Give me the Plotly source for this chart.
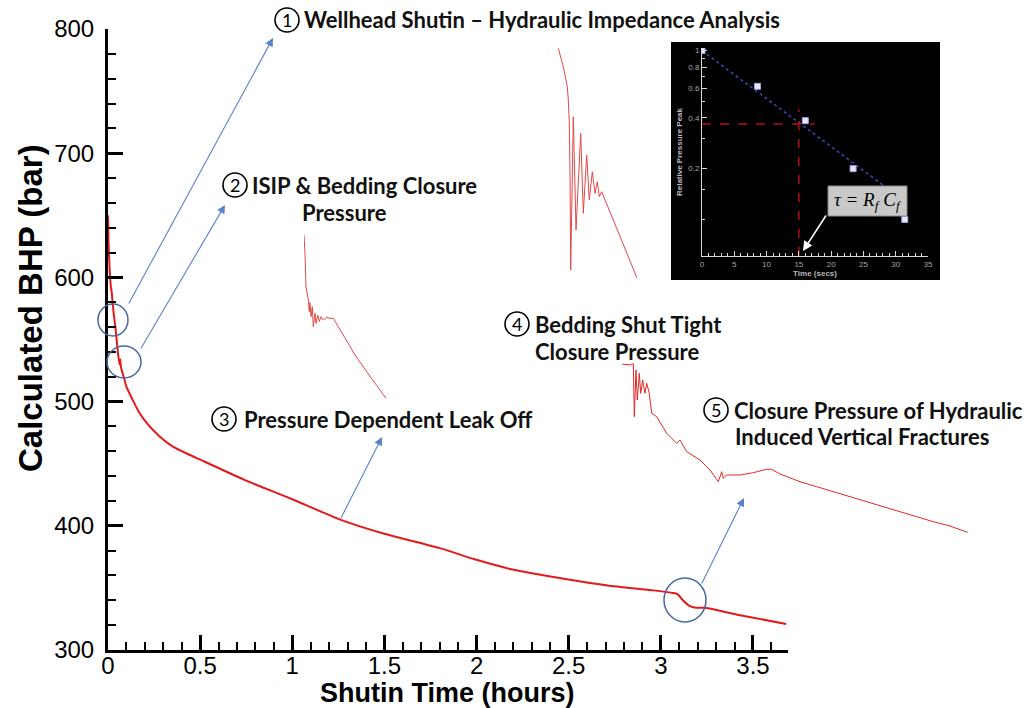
import math
import plotly.graph_objects as go

W, H = 1026, 708

# ---------------- main curve (shut-in BHP) ----------------
shutin_hours = [0, 0.003, 0.008, 0.015, 0.02, 0.03, 0.04, 0.05, 0.062, 0.066, 0.07,
                0.085, 0.1, 0.135, 0.17, 0.22, 0.28, 0.35, 0.43, 0.52, 0.74, 0.99,
                1.26, 1.49, 1.80, 1.99, 2.19, 2.49, 2.71, 2.96, 3.06, 3.09, 3.12,
                3.15, 3.19, 3.24, 3.43, 3.68]
bhp_bar = [650, 628, 610, 593, 588, 572, 560, 545, 530, 534, 528,
           520, 512, 501, 491, 481, 472, 464, 458, 452, 437, 422,
           405, 394, 382, 373, 365, 357, 352, 348, 346, 345, 340,
           336, 334, 334, 328, 321]

# ---------------- inset: hydraulic impedance decay ----------------
decay_time_s = [0, 8.6, 16.0, 23.4, 31.4]
rel_peak = [1.0, 0.615, 0.385, 0.20, 0.10]
fit_time_s = [0, 28.5]
fit_peak = [1.0, 0.155]
tau_s = 15
tau_level = 0.368
inset_x_ticks = [0, 5, 10, 15, 20, 25, 30, 35]
inset_y_ticks = [0.2, 0.4, 0.6, 0.8, 1]
inset_y_labels = ["0.2", "0.4", "0.6", "0.8", "1"]

# ---------------- magnified snippets (relative time, relative pressure) ----------------
wellhead_t = [0.3, 5.3, 8, 9.3, 10.3, 11.3, 12, 12.7, 15.3, 18, 22.7, 25.3, 28.7, 31.3,
              34.3, 37, 39.3, 41.3, 43.7, 62, 79]
wellhead_p = [229.7, 211.3, 198, 191.3, 178, 155, 105, 8, 161.3, 48, 144.7, 64.7, 123, 78,
              106.3, 84.7, 96.3, 81.3, 86.3, 41.3, 0]

isip_t = [0, 1, 2, 4.3, 5.3, 6, 7, 8.3, 9.3, 11, 12, 13.7, 15.3, 17, 19.3, 22.7, 26, 29.3,
          34.3, 42.7, 51, 62.7, 72.7, 82]
isip_p = [163.3, 145, 111.6, 98.3, 86.6, 95.6, 81.6, 91.6, 71.6, 85, 75, 83.3, 76.6, 81.6,
          78.3, 81, 80, 80, 71.6, 56.6, 43.3, 26.6, 13.3, 0]

bedding_t = [0, 8.3, 11.6, 12.6, 14.3, 15.6, 17.6, 19, 21, 23.3, 25, 27.6, 30, 35, 45, 55,
             58.3, 65, 78.3, 88.3, 96.6, 100, 101.6, 105, 118.3, 131.6, 145, 150, 158.3,
             178.3, 195, 211.6, 228.3, 245, 261.6, 278.3, 295, 311.6, 328.3, 346.6]
bedding_p = [168.7, 167.7, 169.4, 116, 162.7, 132.7, 159.4, 139.4, 152.7, 139.4, 149.4,
             139.4, 119.4, 116, 99.4, 89.4, 92.7, 81, 72.7, 62.7, 51, 61, 54.4, 57.7, 57.7,
             60, 63.4, 63.4, 58.7, 51, 46, 41, 36, 31, 26, 21, 16, 11, 6.7, 0]


def fx(x):
    return x / W


def fy(y):
    return 1 - y / H


fig = go.Figure()

RED = "#E3191C"
fig.add_trace(go.Scatter(x=shutin_hours, y=bhp_bar, mode="lines",
                         line=dict(color=RED, width=2, shape="spline", smoothing=0.6),
                         xaxis="x", yaxis="y", showlegend=False, hoverinfo="skip"))

# snippets
fig.add_trace(go.Scatter(x=wellhead_t, y=wellhead_p, mode="lines",
                         line=dict(color="#E24848", width=1), xaxis="x3", yaxis="y3",
                         showlegend=False, hoverinfo="skip"))
fig.add_trace(go.Scatter(x=isip_t, y=isip_p, mode="lines",
                         line=dict(color="#E24848", width=1), xaxis="x4", yaxis="y4",
                         showlegend=False, hoverinfo="skip"))
fig.add_trace(go.Scatter(x=bedding_t, y=bedding_p, mode="lines",
                         line=dict(color="#E02828", width=1), xaxis="x5", yaxis="y5",
                         showlegend=False, hoverinfo="skip"))

# inset traces
inset_ymin = 0.0608
inset_ymax = 1.037
fig.add_trace(go.Scatter(x=fit_time_s, y=fit_peak, mode="lines",
                         line=dict(color="#3848B0", width=1.6, dash="dot"),
                         xaxis="x2", yaxis="y2", showlegend=False, hoverinfo="skip"))
fig.add_trace(go.Scatter(x=[0, 17.5], y=[tau_level, tau_level], mode="lines",
                         line=dict(color="#B01010", width=1.5, dash="dash"),
                         xaxis="x2", yaxis="y2", showlegend=False, hoverinfo="skip"))
fig.add_trace(go.Scatter(x=[tau_s, tau_s], y=[inset_ymin, 0.45], mode="lines",
                         line=dict(color="#B01010", width=1.5, dash="dash"),
                         xaxis="x2", yaxis="y2", showlegend=False, hoverinfo="skip"))
fig.add_trace(go.Scatter(x=decay_time_s, y=rel_peak, mode="markers",
                         marker=dict(symbol="square", size=6, color="#E8E8FF",
                                     line=dict(color="#A0A0E0", width=1)),
                         xaxis="x2", yaxis="y2", showlegend=False, hoverinfo="skip"))

SANS = "Liberation Sans, Arial"
TICKFONT = dict(family=SANS, size=24, color="black")

layout = dict(
    width=W, height=H,
    margin=dict(l=0, r=0, t=0, b=0, autoexpand=False),
    paper_bgcolor="white",
    plot_bgcolor="rgba(0,0,0,0)",
    showlegend=False,
    xaxis=dict(domain=[fx(108), fx(788)], range=[0, 3.69], anchor="y", automargin=False,
               showline=True, linecolor="black", linewidth=3,
               ticks="inside", ticklen=15, tickwidth=3, tickcolor="black",
               tick0=0, dtick=0.5, tickfont=TICKFONT, ticklabelstandoff=-8,
               minor=dict(ticks="inside", ticklen=8, tickwidth=1.5, tickcolor="black", dtick=0.1),
               showgrid=False, zeroline=False),
    yaxis=dict(domain=[fy(650), fy(29)], range=[300, 800], anchor="x", automargin=False,
               showline=True, linecolor="black", linewidth=3,
               ticks="inside", ticklen=15, tickwidth=3, tickcolor="black",
               tick0=300, dtick=100, tickfont=TICKFONT, ticklabelstandoff=6,
               minor=dict(ticks="inside", ticklen=8, tickwidth=1.5, tickcolor="black", dtick=20),
               showgrid=False, zeroline=False),
    xaxis2=dict(domain=[fx(702), fx(928)], range=[0, 35], anchor="y2", automargin=False,
                showline=True, linecolor="#D8D8D8", linewidth=1,
                ticks="inside", ticklen=5, tickwidth=1, tickcolor="#D8D8D8",
                tickvals=inset_x_ticks, tickfont=dict(family="Liberation Sans", size=8, color="#A8A8A8"),
                minor=dict(ticks="inside", ticklen=3, tickcolor="#D8D8D8", dtick=1),
                title=dict(text="<b>Time (secs)</b>", standoff=2,
                           font=dict(family="Liberation Sans", size=8, color="#B8B8B8")),
                showgrid=False, zeroline=False),
    yaxis2=dict(domain=[fy(256), fy(48)], type="log", automargin=False,
                range=[math.log10(inset_ymin), math.log10(inset_ymax)], anchor="x2",
                showline=True, linecolor="#D8D8D8", linewidth=1,
                ticks="inside", ticklen=5, tickwidth=1, tickcolor="#D8D8D8",
                tickvals=inset_y_ticks, ticktext=inset_y_labels,
                tickfont=dict(family="Liberation Sans", size=8, color="#A8A8A8"),
                minor=dict(ticks="inside", ticklen=3, tickcolor="#D8D8D8",
                           tickvals=[0.1, 0.15, 0.3, 0.5, 0.7, 0.9]),
                title=dict(text="<b>Relative Pressure Peak</b>", standoff=4,
                           font=dict(family="Liberation Sans", size=8, color="#B8B8B8")),
                showgrid=False, zeroline=False),
    xaxis3=dict(domain=[fx(558), fx(637)], range=[0, 79], anchor="y3", visible=False, automargin=False),
    yaxis3=dict(domain=[fy(278), fy(48)], range=[0, 230], anchor="x3", visible=False, automargin=False),
    xaxis4=dict(domain=[fx(304), fx(386)], range=[0, 82], anchor="y4", visible=False, automargin=False),
    yaxis4=dict(domain=[fy(398.3), fy(235)], range=[0, 163.3], anchor="x4", visible=False, automargin=False),
    xaxis5=dict(domain=[fx(621.7), fx(968.3)], range=[0, 346.6], anchor="y5", visible=False, automargin=False),
    yaxis5=dict(domain=[fy(532.7), fy(363.3)], range=[0, 169.4], anchor="x5", visible=False, automargin=False),
)
fig.update_layout(**layout)

shapes = []
# inset background
shapes.append(dict(type="rect", xref="paper", yref="paper", x0=fx(671), x1=fx(940),
                   y0=fy(280), y1=fy(42), fillcolor="black", line=dict(width=0), layer="below"))
# tau box
shapes.append(dict(type="rect", xref="paper", yref="paper", x0=fx(828), x1=fx(907),
                   y0=fy(216), y1=fy(186), fillcolor="#C9C9C9", line=dict(color="#8A8A8A", width=1)))

# blue highlight ellipses
for cx, cy, rx, ry in [(113, 320, 15, 16), (124, 362, 17, 16), (685, 600, 21, 22)]:
    shapes.append(dict(type="circle", xref="paper", yref="paper",
                       x0=fx(cx - rx), x1=fx(cx + rx), y0=fy(cy + ry), y1=fy(cy - ry),
                       line=dict(color="#4A66A0", width=1.5)))

# numbered circles
num_circles = [("1", 287, 20), ("2", 235, 185), ("3", 224, 419), ("4", 517, 324), ("5", 716, 410)]
for _, cx, cy in num_circles:
    r = 12
    shapes.append(dict(type="circle", xref="paper", yref="paper",
                       x0=fx(cx - r), x1=fx(cx + r), y0=fy(cy + r), y1=fy(cy - r),
                       line=dict(color="black", width=1.6)))
fig.update_layout(shapes=shapes)

annotations = []
LBL = dict(family="Lato, Open Sans, sans-serif", size=22, color="#111111")
for num, cx, cy in num_circles:
    annotations.append(dict(xref="paper", yref="paper", x=fx(cx), y=fy(cy), text=num,
                            showarrow=False, xanchor="center", yanchor="middle",
                            font=dict(family="Lato, sans-serif", size=18, color="black")))

texts = [
    ("<b>Wellhead Shutin – Hydraulic Impedance Analysis</b>", 302, 20, "left"),
    ("<b>ISIP &amp; Bedding Closure</b>", 250, 185, "left"),
    ("<b>Pressure</b>", 344, 213, "center"),
    ("<b>Pressure Dependent Leak Off</b>", 242, 419, "left"),
    ("<b>Bedding Shut Tight</b>", 533, 324, "left"),
    ("<b>Closure Pressure</b>", 617, 351, "center"),
    ("<b>Closure Pressure of Hydraulic</b>", 732, 410, "left"),
    ("<b>Induced Vertical Fractures</b>", 733, 437, "left"),
]
for t, x, y, anc in texts:
    annotations.append(dict(xref="paper", yref="paper", x=fx(x), y=fy(y), text=t,
                            showarrow=False, xanchor=anc, yanchor="middle", font=LBL))

# axis titles
annotations.append(dict(xref="paper", yref="paper", x=fx(30), y=fy(308),
                        text="<b>Calculated BHP (bar)</b>", textangle=-90, showarrow=False,
                        xanchor="center", yanchor="middle",
                        font=dict(family=SANS, size=33, color="black")))
annotations.append(dict(xref="paper", yref="paper", x=fx(447), y=fy(693),
                        text="<b>Shutin Time (hours)</b>", showarrow=False,
                        xanchor="center", yanchor="middle",
                        font=dict(family=SANS, size=27, color="black")))

# blue pointer arrows (tail -> head)
for (tx, ty), (hx, hy) in [((128, 305), (273, 38)), ((140, 350), (225, 205)),
                           ((340, 520), (382, 437)), ((701, 585), (744, 498))]:
    annotations.append(dict(xref="paper", yref="paper", x=fx(hx), y=fy(hy),
                            ax=tx - hx, ay=ty - hy, axref="pixel", ayref="pixel",
                            text="", showarrow=True, arrowhead=2, arrowsize=1.5,
                            arrowwidth=1.1, arrowcolor="#5A82C8"))

# tau formula and arrow
annotations.append(dict(xref="paper", yref="paper", x=fx(867.5), y=fy(201),
                        text="<i>τ = R<sub>f</sub> C<sub>f</sub></i>", showarrow=False,
                        xanchor="center", yanchor="middle",
                        font=dict(family="Liberation Serif, Times New Roman", size=19, color="black")))
annotations.append(dict(xref="paper", yref="paper", x=fx(803), y=fy(251),
                        ax=24, ay=-37, axref="pixel", ayref="pixel", text="",
                        showarrow=True, arrowhead=2, arrowsize=1.2, arrowwidth=1.6,
                        arrowcolor="white"))

fig.update_layout(annotations=annotations)

fig.write_html("out.html")
